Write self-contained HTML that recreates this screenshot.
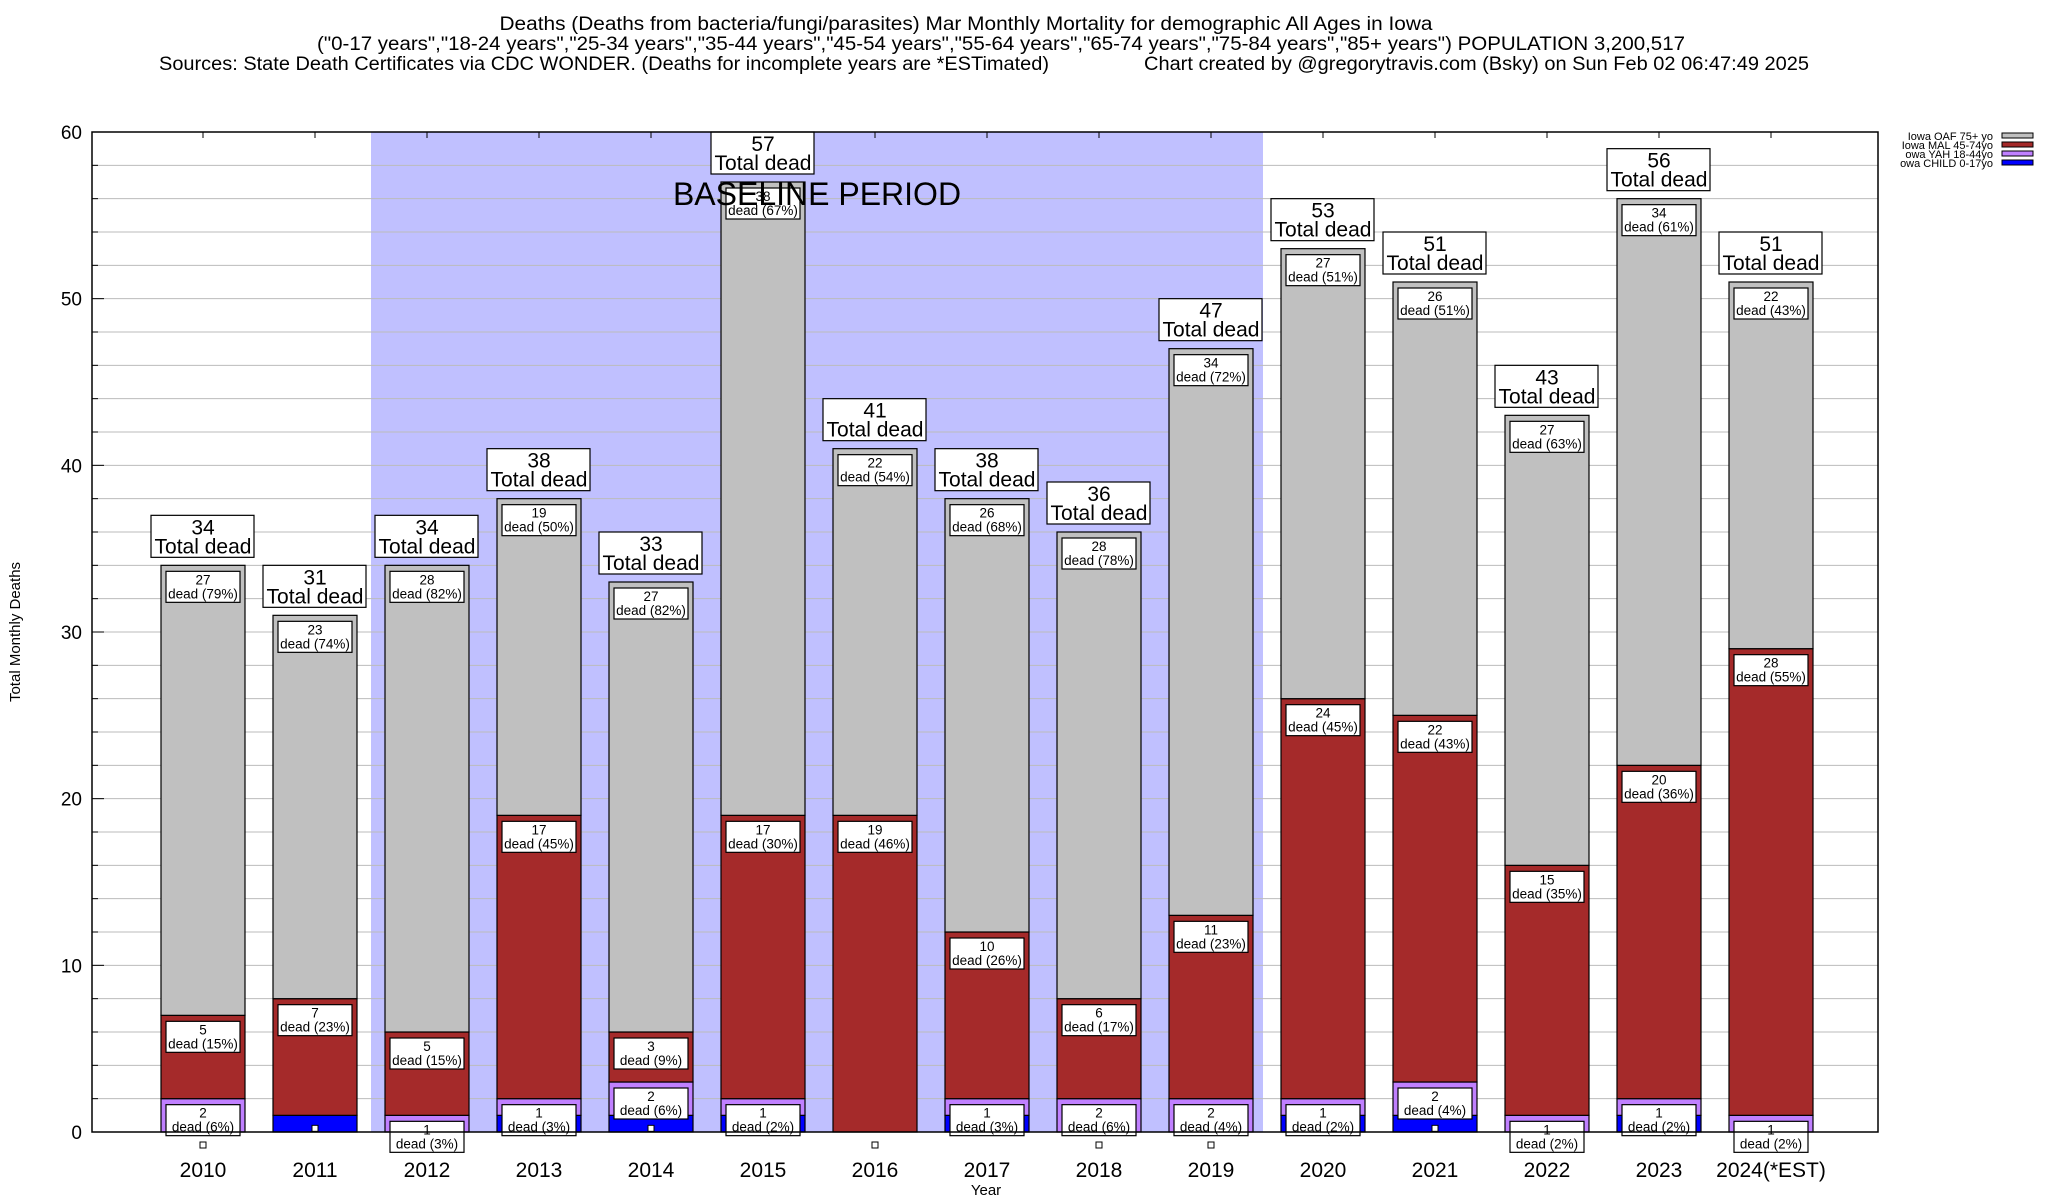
<!DOCTYPE html>
<html><head><meta charset="utf-8"><style>
html,body{margin:0;padding:0;background:#fff;}
svg{display:block;font-family:"Liberation Sans",sans-serif;}
</style></head><body>
<svg id="chart" width="2048" height="1200" viewBox="0 0 2048 1200">
<g>
<text x="966" y="30" font-size="19" text-anchor="middle" textLength="933" lengthAdjust="spacingAndGlyphs">Deaths (Deaths from bacteria/fungi/parasites) Mar Monthly Mortality for demographic All Ages in Iowa</text>
<text x="1001" y="50" font-size="19" text-anchor="middle" textLength="1368" lengthAdjust="spacingAndGlyphs">("0-17 years","18-24 years","25-34 years","35-44 years","45-54 years","55-64 years","65-74 years","75-84 years","85+ years") POPULATION 3,200,517</text>
<text x="159" y="70" font-size="19" textLength="890" lengthAdjust="spacingAndGlyphs">Sources: State Death Certificates via CDC WONDER. (Deaths for incomplete years are *ESTimated)</text>
<text x="1144" y="70" font-size="19" textLength="665" lengthAdjust="spacingAndGlyphs">Chart created by @gregorytravis.com (Bsky) on Sun Feb 02 06:47:49 2025</text>
</g>
<g id="plot"></g>
</svg>
<script>
const years=["2010","2011","2012","2013","2014","2015","2016","2017","2018","2019","2020","2021","2022","2023","2024(*EST)"];
const child=[0,1,0,1,1,1,0,1,0,0,1,1,0,1,0];
const yah=[2,0,1,1,2,1,0,1,2,2,1,2,1,1,1];
const mal=[5,7,5,17,3,17,19,10,6,11,24,22,15,20,28];
const oaf=[27,23,28,19,27,38,22,26,28,34,27,26,27,34,22];
const yTicks=[0,10,20,30,40,50,60];
const baselineStart=2, baselineEnd=9;

const NS="http://www.w3.org/2000/svg";
const g=document.getElementById('plot');
const L=92,R=1878,T=132,B=1132;
const y=v=>B-(v/60)*(B-T);
const x=i=>203+i*112;
const BW=84;
function el(tag,attrs,parent){const e=document.createElementNS(NS,tag);for(const k in attrs)e.setAttribute(k,attrs[k]);(parent||g).appendChild(e);return e;}

let sh=el('rect',{x:x(baselineStart)-56,y:T,width:(baselineEnd-baselineStart+1)*112-4,height:B-T,fill:'#c0c0ff'});


for(let v=2;v<60;v+=2){let ln=el('line',{x1:L,x2:R,y1:y(v),y2:y(v),stroke:'#bbb','stroke-width':1});


el('line',{x1:L,x2:L+(v%10==0?12:6),y1:y(v),y2:y(v),stroke:'#000'});}
yTicks.forEach(v=>{let t=el('text',{x:82,y:y(v)+7,'font-size':19,'text-anchor':'end'});t.textContent=v;

});

const series=[{d:child,c:'#0000ff',n:'child'},{d:yah,c:'#c080ff',n:'yah'},{d:mal,c:'#a52a2a',n:'mal'},{d:oaf,c:'#c0c0c0',n:'oaf'}];
const labels=[];
years.forEach((yr,i)=>{
  const total=child[i]+yah[i]+mal[i]+oaf[i];
  let base=0;
  series.forEach(s=>{
    const v=s.d[i];const top=base+v;
    if(v>0){let r=el('rect',{x:x(i)-BW/2,y:y(top),width:BW,height:y(base)-y(top),fill:s.c,stroke:'#000','stroke-width':1.2});
    
    }
    if(s.n==='child'){labels.push({t:'sq',x:x(i),y:y(top)+13});}
    else if(v>0){labels.push({t:'seg',x:x(i),y:y(top)+6,v:v,p:Math.round(v/total*100)});}
    base=top;
  });
  labels.push({t:'tot',x:x(i),y:y(total)-8,v:total});
  let yl=el('text',{x:x(i),y:1177,'font-size':21,'text-anchor':'middle'});yl.textContent=yr;
  
  
  el('line',{x1:x(i),x2:x(i),y1:T,y2:T+6,stroke:'#000'});
});
labels.forEach(l=>{
  if(l.t==='sq'){let s=el('rect',{x:l.x-3,y:l.y-3,width:6,height:6,fill:'#fff',stroke:'#000','stroke-width':1});
    
    }
  else if(l.t==='seg'){const gg=el('g',{});
    
    
    el('rect',{x:l.x-37,y:l.y,width:74,height:31,fill:'#fff',stroke:'#000','stroke-width':1.2},gg);
    let a=el('text',{x:l.x,y:l.y+13,'font-size':13.5,'text-anchor':'middle'},gg);a.textContent=l.v;
    let b=el('text',{x:l.x,y:l.y+27,'font-size':13.5,'text-anchor':'middle'},gg);b.textContent='dead ('+l.p+'%)';}
  else{const gg=el('g',{});
    
    
    el('rect',{x:l.x-52,y:l.y-42,width:103,height:42,fill:'#fff',stroke:'#000','stroke-width':1.2},gg);
    let a=el('text',{x:l.x,y:l.y-23,'font-size':21,'text-anchor':'middle'},gg);a.textContent=l.v;
    let b=el('text',{x:l.x,y:l.y-4,'font-size':21,'text-anchor':'middle'},gg);b.textContent='Total dead';}
});
let bp=el('text',{x:817,y:205,'font-size':32,'text-anchor':'middle'});bp.textContent='BASELINE PERIOD';


let fr=el('rect',{x:L,y:T,width:R-L,height:B-T,fill:'none',stroke:'#000','stroke-width':1.5});


let yt=el('text',{x:20,y:632,'font-size':15,'text-anchor':'middle',transform:'rotate(-90 20 632)'});yt.textContent='Total Monthly Deaths';


let xt=el('text',{x:986,y:1195,'font-size':15,'text-anchor':'middle'});xt.textContent='Year';


const leg=[['Iowa OAF 75+ yo','#c0c0c0'],['Iowa MAL 45-74yo','#a52a2a'],['owa YAH 18-44yo','#c080ff'],['owa CHILD 0-17yo','#0000ff']];
leg.forEach((e,k)=>{const gg=el('g',{});
  
  
  let t=el('text',{x:1993,y:140+k*9,'font-size':11,'text-anchor':'end'},gg);t.textContent=e[0];
  el('rect',{x:2002,y:133+k*9,width:31,height:5,fill:e[1],stroke:'#000','stroke-width':1},gg);});
</script>
</body></html>
